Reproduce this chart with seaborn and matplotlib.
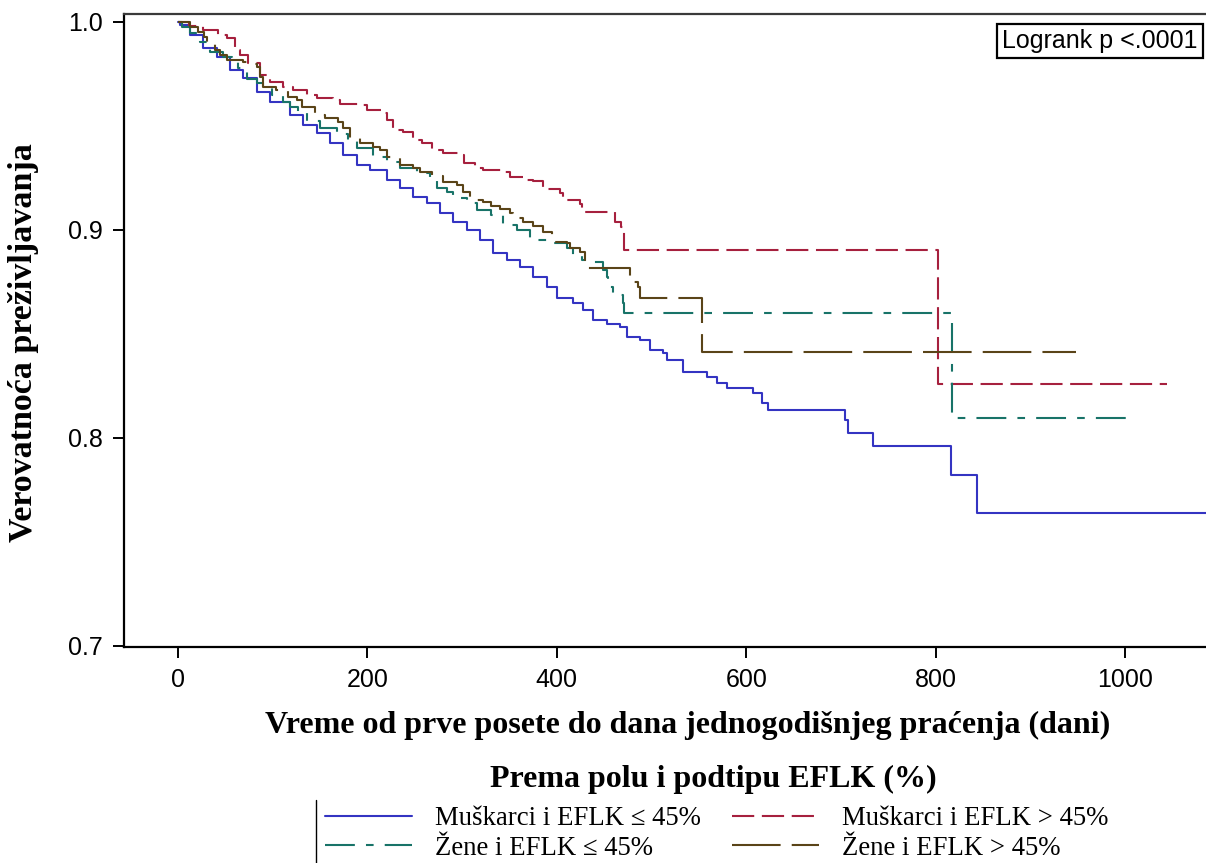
import matplotlib
matplotlib.use("Agg")
import matplotlib.pyplot as plt
from matplotlib.lines import Line2D
import seaborn as sns
import pandas as pd

# ---------------- data ----------------
groups = ["Muškarci i EFLK ≤ 45%", "Muškarci i EFLK > 45%",
          "Žene i EFLK ≤ 45%", "Žene i EFLK > 45%"]

blue_t = [0, 2, 13, 26, 41, 55, 69, 83, 97, 118, 132, 147, 160, 174, 189, 203,
          221, 234, 248, 263, 277, 290, 305, 319, 333, 347, 361, 375, 390, 400,
          417, 428, 438, 453, 467, 474, 488, 498, 512, 516, 533, 559, 569, 580,
          607, 617, 623, 704, 708, 734, 816, 844, 1100]
blue_s = [1.0, 0.9986, 0.9937, 0.9875, 0.9831, 0.9769, 0.9730, 0.9663, 0.9615,
          0.9552, 0.9504, 0.9466, 0.9417, 0.9360, 0.9312, 0.9290, 0.9239, 0.9201,
          0.9157, 0.9129, 0.9080, 0.9037, 0.8999, 0.8950, 0.8888, 0.8854, 0.8820,
          0.8772, 0.8724, 0.8671, 0.8647, 0.8613, 0.8565, 0.8550, 0.8532, 0.8483,
          0.8469, 0.8421, 0.8406, 0.8373, 0.8315, 0.8291, 0.8262, 0.8238, 0.8214,
          0.8170, 0.8132, 0.8084, 0.8026, 0.7963, 0.7824, 0.7641, 0.7641]

red_t = [0, 12, 26, 42, 52, 60, 66, 74, 87, 97, 111, 121, 136, 147, 164, 171,
         192, 200, 217, 221, 227, 238, 248, 258, 268, 280, 298, 302, 314, 322,
         343, 351, 366, 375, 385, 403, 407, 425, 427, 461, 468, 471, 802, 1044]
red_s = [1.0, 0.9980, 0.9961, 0.9937, 0.9923, 0.9865, 0.9841, 0.9803, 0.9745,
         0.9711, 0.9687, 0.9673, 0.9649, 0.9634, 0.9624, 0.9605, 0.9600, 0.9576,
         0.9562, 0.9528, 0.9480, 0.9470, 0.9432, 0.9417, 0.9384, 0.9369, 0.9360,
         0.9321, 0.9297, 0.9287, 0.9278, 0.9254, 0.9239, 0.9234, 0.9196, 0.9177,
         0.9143, 0.9124, 0.9085, 0.9037, 0.9013, 0.8902, 0.8257, 0.8257]

teal_t = [0, 4, 13, 23, 34, 48, 57, 63, 73, 83, 90, 99, 111, 118, 127, 136, 150,
          168, 179, 189, 206, 221, 234, 252, 266, 274, 284, 290, 305, 316, 330,
          343, 358, 372, 390, 411, 417, 427, 435, 449, 453, 454, 459, 470, 471,
          817, 1012]
teal_s = [1.0, 0.9976, 0.9947, 0.9904, 0.9856, 0.9831, 0.9807, 0.9779, 0.9726,
          0.9706, 0.9687, 0.9649, 0.9615, 0.9591, 0.9567, 0.9523, 0.9490, 0.9461,
          0.9432, 0.9393, 0.9350, 0.9326, 0.9297, 0.9273, 0.9249, 0.9201, 0.9181,
          0.9153, 0.9129, 0.9095, 0.9071, 0.9023, 0.8999, 0.8950, 0.8936, 0.8912,
          0.8878, 0.8854, 0.8844, 0.8806, 0.8772, 0.8724, 0.8686, 0.8647, 0.8599,
          0.8098, 0.8098]

brown_t = [0, 13, 21, 28, 31, 39, 44, 52, 69, 74, 83, 87, 90, 104, 116, 126, 131,
           145, 155, 169, 174, 182, 192, 206, 213, 221, 234, 248, 256, 268, 280,
           295, 301, 308, 322, 330, 340, 351, 354, 364, 375, 385, 395, 396, 411,
           414, 424, 430, 477, 486, 488, 553, 948]
brown_s = [1.0, 0.9976, 0.9952, 0.9928, 0.9904, 0.9865, 0.9841, 0.9817, 0.9807,
           0.9798, 0.9783, 0.9735, 0.9687, 0.9673, 0.9639, 0.9624, 0.9591, 0.9552,
           0.9538, 0.9519, 0.9490, 0.9442, 0.9417, 0.9398, 0.9384, 0.9350, 0.9312,
           0.9297, 0.9278, 0.9259, 0.9230, 0.9215, 0.9181, 0.9143, 0.9133, 0.9114,
           0.9100, 0.9080, 0.9056, 0.9037, 0.9018, 0.8989, 0.8970, 0.8941, 0.8936,
           0.8912, 0.8893, 0.8816, 0.8748, 0.8724, 0.8671, 0.8411, 0.8411]

x_ticks = [0, 200, 400, 600, 800, 1000]
y_ticks = [0.7, 0.8, 0.9, 1.0]
y_tick_labels = ["0.7", "0.8", "0.9", "1.0"]

colors = {groups[0]: "#3434C2", groups[1]: "#A6203E",
          groups[2]: "#187368", groups[3]: "#5A4418"}
dash_map = {groups[0]: "", groups[1]: (16, 5.5),
            groups[2]: (21.5, 8, 5.5, 8), groups[3]: (35, 8)}

frames = []
for g, t, s in zip(groups, [blue_t, red_t, teal_t, brown_t],
                   [blue_s, red_s, teal_s, brown_s]):
    frames.append(pd.DataFrame({"dani": t, "prezivljavanje": s, "grupa": g}))
df = pd.concat(frames, ignore_index=True)

# ---------------- style ----------------
sns.set_theme(style="white")
plt.rcParams["font.family"] = ["Liberation Sans", "DejaVu Sans"]
plt.rcParams["lines.scale_dashes"] = False
plt.rcParams["text.color"] = "black"

W, H = 1206, 863
fig = plt.figure(figsize=(W / 100, H / 100), dpi=100)
ax = fig.add_axes([124 / W, 1 - 647 / H, (W - 124) / W + 0.01, (647 - 14) / H])

sns.lineplot(data=df, x="dani", y="prezivljavanje", hue="grupa", style="grupa",
             hue_order=groups, style_order=groups, palette=colors,
             dashes=dash_map, estimator=None, errorbar=None, sort=False,
             drawstyle="steps-post", linewidth=1.5, legend=False, ax=ax)

ax.set_xlim(-57, 1085.5 + 0.01 * W / 0.947)
ax.set_ylim(0.6995, 1.0038)
ax.set_xticks(x_ticks)
ax.set_xticklabels([str(v) for v in x_ticks])
ax.set_yticks(y_ticks)
ax.set_yticklabels(y_tick_labels)
ax.set_xlabel("")
ax.set_ylabel("")
ax.tick_params(axis="both", direction="out", length=8, width=1.4, color="black",
               labelsize=18, labelcolor="black", left=True, bottom=True)
ax.tick_params(axis="y", pad=7)
ax.tick_params(axis="x", pad=7)
for sp in ["left", "bottom"]:
    ax.spines[sp].set_color("black")
    ax.spines[sp].set_linewidth(1.6)
ax.spines["top"].set_color("#3a3a3a")
ax.spines["top"].set_linewidth(1.6)
ax.spines["right"].set_visible(False)

serif = ["Liberation Serif", "DejaVu Serif"]
fig.text(24 / W, 1 - 343 / H, "Verovatnoća preživljavanja", rotation=90,
         ha="center", va="center", fontsize=24.5, fontweight="bold",
         family=serif, color="black")
fig.text(688 / W, 1 - 725 / H,
         "Vreme od prve posete do dana jednogodišnjeg praćenja (dani)",
         ha="center", va="center", fontsize=23, fontweight="bold",
         family=serif, color="black")
fig.text(713 / W, 1 - 779 / H, "Prema polu i podtipu EFLK (%)",
         ha="center", va="center", fontsize=23, fontweight="bold",
         family=serif, color="black")

fig.text(1002 / W, 1 - 41 / H, "Logrank p <.0001", ha="left", va="center",
         fontsize=18, family=["Liberation Sans"], color="black",
         bbox=dict(boxstyle="square,pad=0.2", fc="white", ec="black", lw=1.6))

lines = ax.get_lines()[:4]
handles = []
for i, l in enumerate(lines):
    h = Line2D([0], [0], color=l.get_color(), lw=1.5)
    if dash_map[groups[i]]:
        h.set_dashes(dash_map[groups[i]])
    handles.append(h)
order = [0, 2, 1, 3]
leg = fig.legend([handles[i] for i in order], [groups[i] for i in order], ncol=2,
                 loc="upper left", bbox_to_anchor=(325 / W, 1 - 806 / H),
                 frameon=False, borderpad=0, borderaxespad=0, labelspacing=0.17,
                 handlelength=3.25, handletextpad=0.86, columnspacing=1.16,
                 prop=dict(family=serif, size=19.3))
for t in leg.get_texts():
    t.set_color("black")
fig.add_artist(Line2D([316 / W, 316 / W], [1 - 800 / H, 0], color="black",
                      lw=1.0, transform=fig.transFigure))

fig.savefig("out.png", dpi=100)
